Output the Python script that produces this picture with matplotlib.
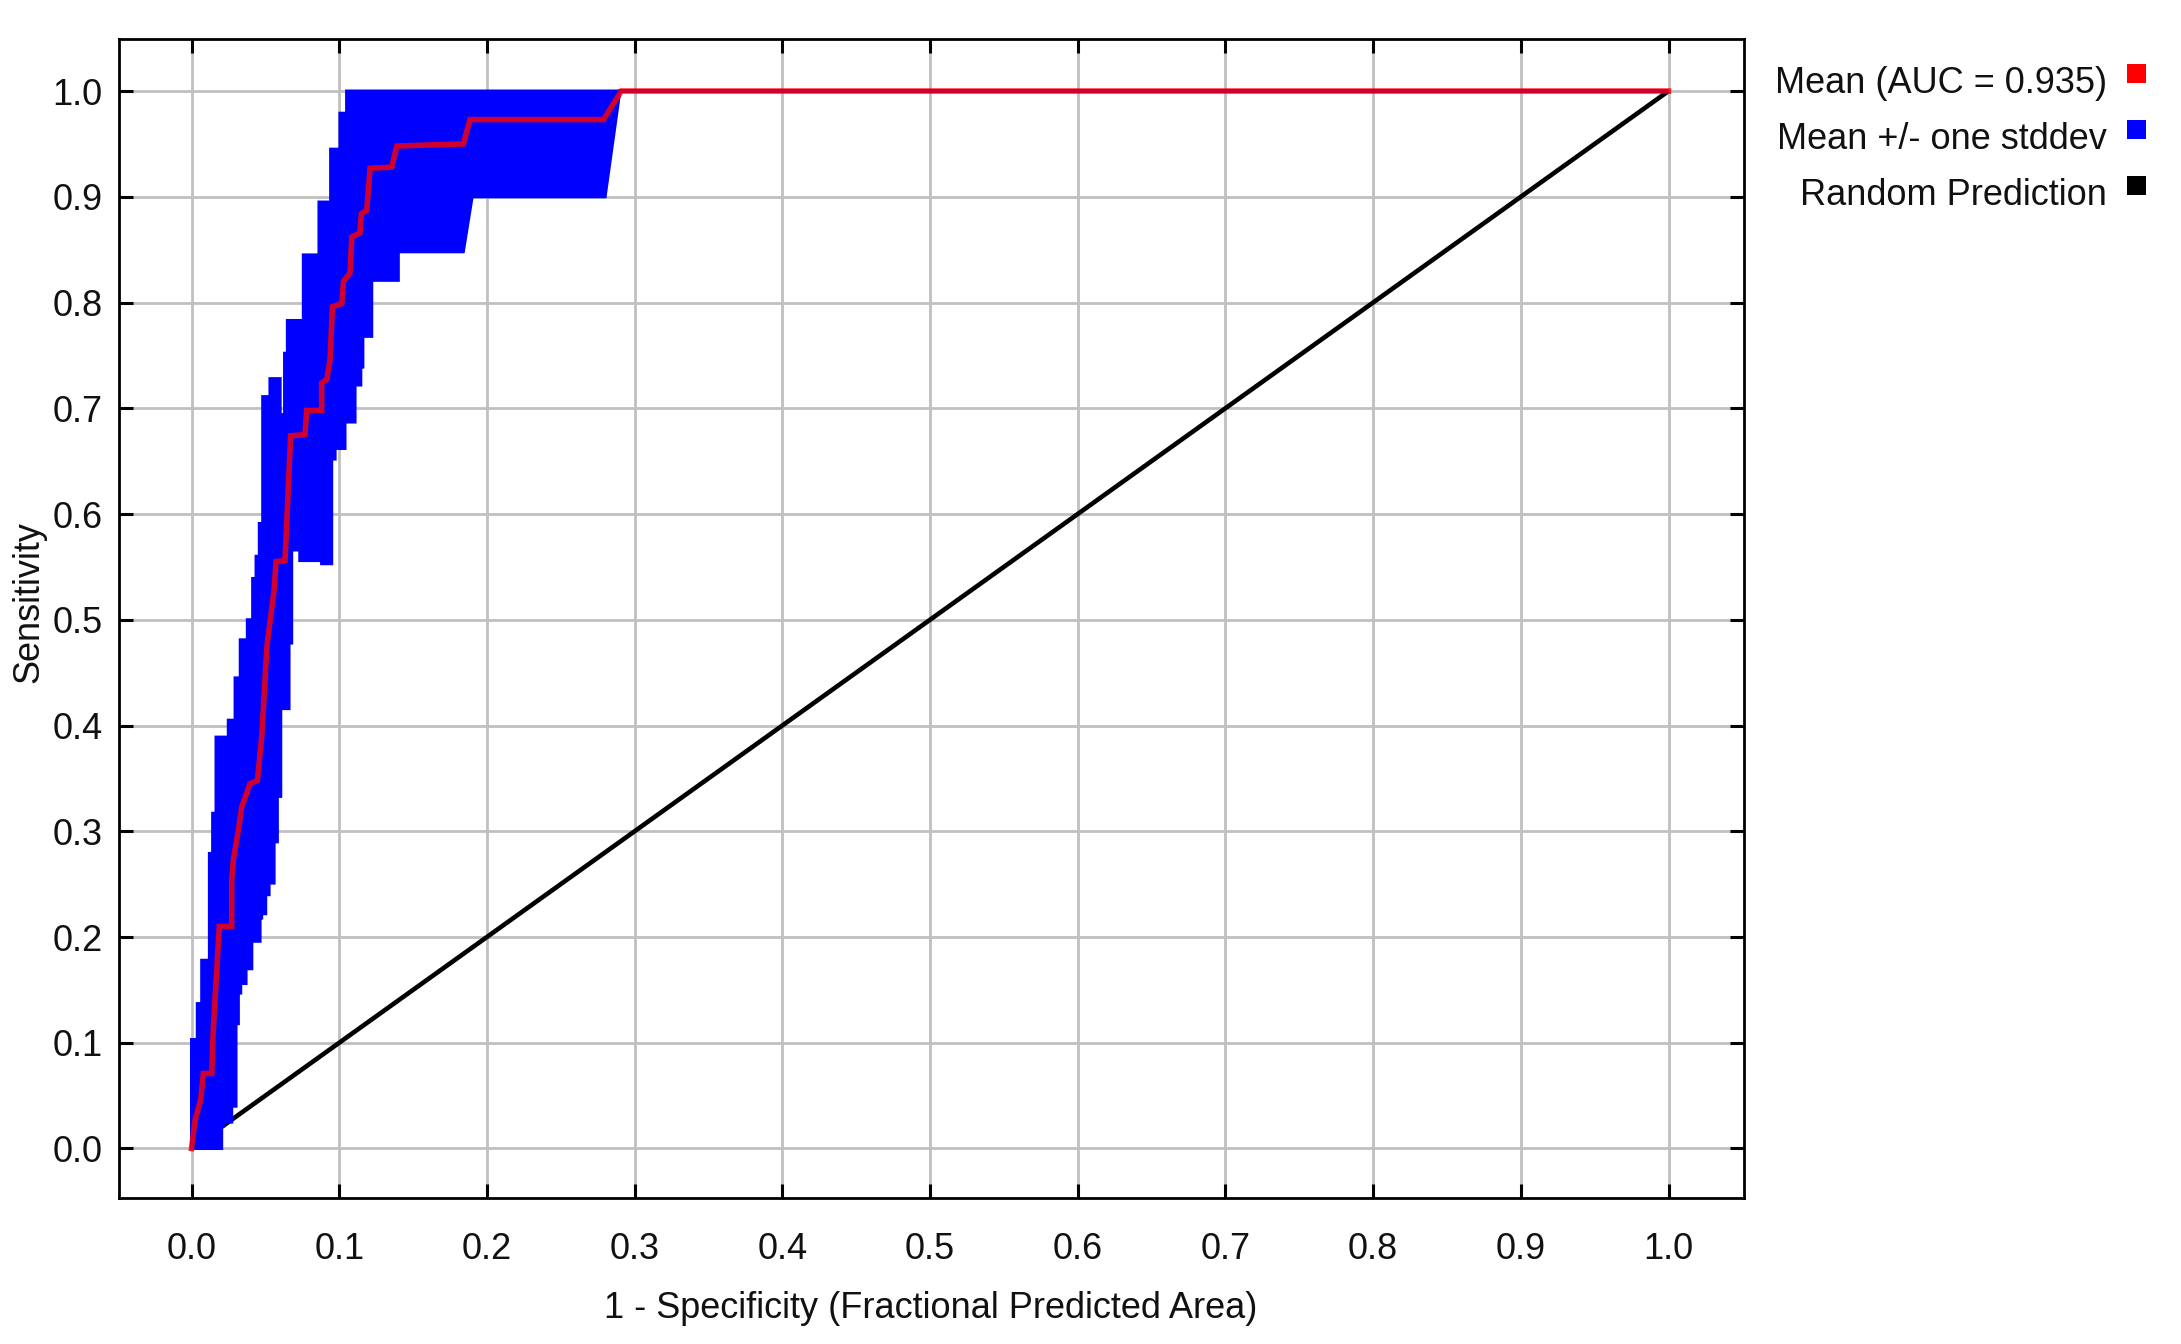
import numpy as np
import matplotlib
matplotlib.use("Agg")
import matplotlib.pyplot as plt
from matplotlib.patches import Polygon, Rectangle

plt.rcParams.update({
    "font.family": ["Liberation Sans", "DejaVu Sans"],
    "font.size": 26,
})

# ---------------------------------------------------------------------------
# Data (ROC curve, mean +/- one stddev)
# ---------------------------------------------------------------------------
mean_x = [0.0, 0.0024, 0.0062, 0.0080, 0.0137, 0.0148, 0.0188, 0.0272, 0.0272,
          0.0272, 0.0283, 0.0317, 0.0340, 0.0396, 0.0446, 0.0475, 0.0509,
          0.0513, 0.0559, 0.0572, 0.0633, 0.0671, 0.0768, 0.0780, 0.0881,
          0.0881, 0.0915, 0.0938, 0.0954, 0.1017, 0.1029, 0.1073, 0.1085,
          0.1141, 0.1150, 0.1186, 0.1209, 0.1355, 0.1390, 0.1840, 0.1886,
          0.2790, 0.2910, 1.0]
mean_y = [0.0, 0.027, 0.046, 0.071, 0.071, 0.115, 0.210, 0.210, 0.235,
          0.254, 0.273, 0.301, 0.323, 0.345, 0.348, 0.389, 0.471,
          0.478, 0.528, 0.555, 0.556, 0.674, 0.675, 0.698, 0.698,
          0.724, 0.727, 0.746, 0.796, 0.799, 0.820, 0.828, 0.862,
          0.866, 0.884, 0.887, 0.927, 0.928, 0.948, 0.950, 0.973,
          0.973, 1.0, 1.0]

# upper band (mean + stddev), step function starting at each x
upper_x = [0.0, 0.0039, 0.0069, 0.0121, 0.0143, 0.0166, 0.0249, 0.0295,
           0.0330, 0.0378, 0.0414, 0.0437, 0.0459, 0.0482, 0.0531, 0.0600,
           0.0630, 0.0649, 0.0757, 0.0863, 0.0942, 0.1005, 0.1050]
upper_y = [0.103, 0.137, 0.178, 0.279, 0.317, 0.389, 0.405, 0.445,
           0.481, 0.500, 0.539, 0.560, 0.591, 0.711, 0.728, 0.694,
           0.752, 0.783, 0.845, 0.895, 0.945, 0.979, 1.0]

# lower band (mean - stddev), step part then straight tail
lower_x = [0.0, 0.0204, 0.0215, 0.0272, 0.0301, 0.0317, 0.0333, 0.0369,
           0.0408, 0.0464, 0.0475, 0.0502, 0.0525, 0.0559, 0.0581, 0.0604,
           0.0660, 0.0678, 0.0733, 0.0881, 0.0949, 0.0972, 0.1039, 0.1107,
           0.1146, 0.1160, 0.1220, 0.1400]
lower_y = [0.0, 0.021, 0.025, 0.040, 0.118, 0.147, 0.156, 0.170,
           0.196, 0.218, 0.222, 0.240, 0.251, 0.290, 0.333, 0.416,
           0.478, 0.566, 0.556, 0.553, 0.652, 0.662, 0.687, 0.722,
           0.739, 0.768, 0.821, 0.848]
lower_tail_x = [0.184, 0.190, 0.280, 0.290, 1.0]
lower_tail_y = [0.848, 0.900, 0.900, 1.0, 1.0]

random_x = [0.0, 1.0]
random_y = [0.0, 1.0]

ticks = [0.0, 0.1, 0.2, 0.3, 0.4, 0.5, 0.6, 0.7, 0.8, 0.9, 1.0]
legend_labels = ["Mean (AUC = 0.935)", "Mean +/- one stddev", "Random Prediction"]
legend_colors = ["#ff0000", "#0000ff", "#000000"]

W, H = 2181, 1344


def fx(x):
    return x / W


def fy(y):
    return 1 - y / H


def steps(xs, ys, x_end):
    pts = []
    for i in range(len(xs)):
        nx = xs[i + 1] if i + 1 < len(xs) else x_end
        pts += [(xs[i], ys[i]), (nx, ys[i])]
    return pts


fig = plt.figure(figsize=(W / 100, H / 100), dpi=100)
ax = fig.add_axes([fx(119.3), fy(1198.3), fx(1744) - fx(119.3),
                   fy(39) - fy(1198.3)])

ax.grid(True, color="#c0c0c0", lw=2.0, zorder=0)
ax.set_axisbelow(True)

ax.plot(random_x, random_y, color="black", lw=3.3, zorder=2,
        solid_capstyle="butt")

top = [(0.0, 0.0)] + steps(upper_x, upper_y, 1.0)
bottom = steps(lower_x, lower_y, lower_tail_x[0]) + list(zip(lower_tail_x, lower_tail_y))
band = Polygon(top + bottom[::-1], closed=True, facecolor="#0000ff",
               edgecolor="#0000ff", lw=2.2, zorder=3)
ax.add_patch(band)

ax.plot(mean_x, mean_y, color="#ff0000", lw=4.0, alpha=0.82, zorder=4,
        solid_joinstyle="miter")

ax.set_xlim(-0.0489, 1.0511)
ax.set_ylim(-0.0471, 1.0492)
ax.set_xticks(ticks)
ax.set_yticks(ticks)
ax.set_xticklabels([f"{t:.1f}" for t in ticks])
ax.set_yticklabels([f"{t:.1f}" for t in ticks])
ax.tick_params(direction="in", top=True, right=True, length=10, width=2.2,
               color="black", labelsize=26, labelcolor="#111111")
ax.tick_params(axis="x", pad=24)
ax.tick_params(axis="y", pad=12)
for s in ax.spines.values():
    s.set_linewidth(2.0)
    s.set_color("black")
    s.set_zorder(6)

fig.text(fx(931), fy(1318), "1 - Specificity (Fractional Predicted Area)",
         ha="center", va="baseline", fontsize=26, color="#111111")
fig.text(fx(29), fy(602), "Sensitivity", rotation=90, ha="center",
         va="center", fontsize=26, color="#111111")

# legend on the right: right-aligned text with small colour squares
for i, (lab, col) in enumerate(zip(legend_labels, legend_colors)):
    base = 93 + i * 56
    fig.text(fx(2107), fy(base), lab, ha="right", va="baseline",
             fontsize=26, color="#111111")
    fig.add_artist(Rectangle((fx(2127), fy(base - 10)), fx(19), 19 / H,
                             transform=fig.transFigure, facecolor=col,
                             edgecolor="none"))

fig.savefig("out.png", dpi=100)
